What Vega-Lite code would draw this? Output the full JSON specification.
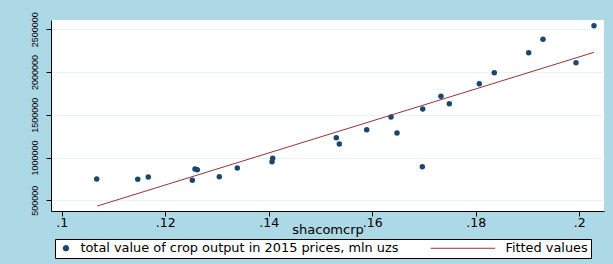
{
  "$schema": "https://vega.github.io/schema/vega-lite/v6.json",
  "width": 553,
  "height": 191,
  "autosize": {"type": "none"},
  "padding": {"left": 51, "top": 20, "right": 9, "bottom": 53},
  "background": "#add8e6",
  "config": {
    "view": {"fill": "white", "stroke": null},
    "font": "DejaVu Sans",
    "axis": {"domainColor": "black", "tickColor": "black", "labelColor": "black", "titleColor": "black", "gridColor": "#eaf2f3", "tickSize": 5, "domainWidth": 1, "tickWidth": 1}
  },
  "datasets": {
    "points": [
      {"shacomcrp": 0.10676, "value": 749100, "series": "total value of crop output in 2015 prices, mln uzs"},
      {"shacomcrp": 0.11469, "value": 745600, "series": "total value of crop output in 2015 prices, mln uzs"},
      {"shacomcrp": 0.11673, "value": 772500, "series": "total value of crop output in 2015 prices, mln uzs"},
      {"shacomcrp": 0.12524, "value": 733900, "series": "total value of crop output in 2015 prices, mln uzs"},
      {"shacomcrp": 0.12576, "value": 866100, "series": "total value of crop output in 2015 prices, mln uzs"},
      {"shacomcrp": 0.12620, "value": 857900, "series": "total value of crop output in 2015 prices, mln uzs"},
      {"shacomcrp": 0.13045, "value": 776000, "series": "total value of crop output in 2015 prices, mln uzs"},
      {"shacomcrp": 0.13393, "value": 877800, "series": "total value of crop output in 2015 prices, mln uzs"},
      {"shacomcrp": 0.14064, "value": 951500, "series": "total value of crop output in 2015 prices, mln uzs"},
      {"shacomcrp": 0.14077, "value": 991200, "series": "total value of crop output in 2015 prices, mln uzs"},
      {"shacomcrp": 0.15306, "value": 1232200, "series": "total value of crop output in 2015 prices, mln uzs"},
      {"shacomcrp": 0.15364, "value": 1158500, "series": "total value of crop output in 2015 prices, mln uzs"},
      {"shacomcrp": 0.15894, "value": 1325700, "series": "total value of crop output in 2015 prices, mln uzs"},
      {"shacomcrp": 0.16363, "value": 1474300, "series": "total value of crop output in 2015 prices, mln uzs"},
      {"shacomcrp": 0.16479, "value": 1287100, "series": "total value of crop output in 2015 prices, mln uzs"},
      {"shacomcrp": 0.16968, "value": 893000, "series": "total value of crop output in 2015 prices, mln uzs"},
      {"shacomcrp": 0.16976, "value": 1567800, "series": "total value of crop output in 2015 prices, mln uzs"},
      {"shacomcrp": 0.17329, "value": 1716400, "series": "total value of crop output in 2015 prices, mln uzs"},
      {"shacomcrp": 0.17490, "value": 1629800, "series": "total value of crop output in 2015 prices, mln uzs"},
      {"shacomcrp": 0.18070, "value": 1863700, "series": "total value of crop output in 2015 prices, mln uzs"},
      {"shacomcrp": 0.18359, "value": 1992400, "series": "total value of crop output in 2015 prices, mln uzs"},
      {"shacomcrp": 0.19024, "value": 2226300, "series": "total value of crop output in 2015 prices, mln uzs"},
      {"shacomcrp": 0.19300, "value": 2383100, "series": "total value of crop output in 2015 prices, mln uzs"},
      {"shacomcrp": 0.19938, "value": 2109400, "series": "total value of crop output in 2015 prices, mln uzs"},
      {"shacomcrp": 0.20286, "value": 2542100, "series": "total value of crop output in 2015 prices, mln uzs"}
    ],
    "fit": [
      {"shacomcrp": 0.10688, "value": 433300, "series": "Fitted values"},
      {"shacomcrp": 0.20286, "value": 2231000, "series": "Fitted values"}
    ]
  },
  "encoding": {
    "x": {
      "field": "shacomcrp", "type": "quantitative",
      "scale": {"domain": [0.09793, 0.20479], "nice": false, "zero": false},
      "axis": {
        "values": [0.1, 0.12, 0.14, 0.16, 0.18, 0.2],
        "labelExpr": "replace(format(datum.value, '.2~f'), /^0/, '')",
        "grid": false,
        "title": "shacomcrp",
        "titleFont": "DejaVu Sans", "titleFontSize": 13, "titleFontWeight": "normal",
        "titleBaseline": "alphabetic", "titleY": 22,
        "labelFont": "DejaVu Sans", "labelFontSize": 12.5,
        "labelBaseline": "alphabetic", "labelPadding": 10,
        "labelFlush": false, "labelOverlap": false
      }
    },
    "y": {
      "field": "value", "type": "quantitative",
      "scale": {"domain": [375000, 2609000], "nice": false, "zero": false},
      "axis": {
        "values": [500000, 1000000, 1500000, 2000000, 2500000],
        "format": "d",
        "title": null,
        "grid": true,
        "labelAngle": 270,
        "labelAlign": "center",
        "labelBaseline": "alphabetic",
        "labelPadding": 9,
        "labelFont": "Liberation Sans",
        "labelFontSize": 9,
        "labelFlush": false, "labelOverlap": false
      }
    },
    "color": {
      "field": "series", "type": "nominal",
      "scale": {"domain": ["total value of crop output in 2015 prices, mln uzs", "Fitted values"], "range": ["#1a476f", "#90353b"]},
      "legend": {
        "orient": "none", "legendX": 4, "legendY": 219, "direction": "horizontal", "title": null,
        "fillColor": "white", "strokeColor": "black", "padding": 2.5,
        "labelFont": "DejaVu Sans", "labelFontSize": 12.9, "labelColor": "black", "labelLimit": 600,
        "labelOffset": 8, "symbolSize": 30, "symbolOffset": 2, "columnPadding": 30, "symbolStrokeWidth": 1,
        "symbolOpacity": 1,
        "encode": {"symbols": {"update": {
          "shape": {"signal": "datum.value === 'Fitted values' ? 'M-22,0H1.5' : 'circle'"},
          "size": {"value": 30},
          "fill": {"signal": "datum.value === 'Fitted values' ? 'transparent' : '#1a476f'"},
          "stroke": {"signal": "datum.value === 'Fitted values' ? '#90353b' : 'transparent'"}
        }}}
      }
    }
  },
  "layer": [
    {"data": {"name": "points"}, "mark": {"type": "point", "filled": true, "size": 30, "opacity": 1}},
    {"data": {"name": "fit"}, "mark": {"type": "line", "strokeWidth": 1}}
  ]
}
